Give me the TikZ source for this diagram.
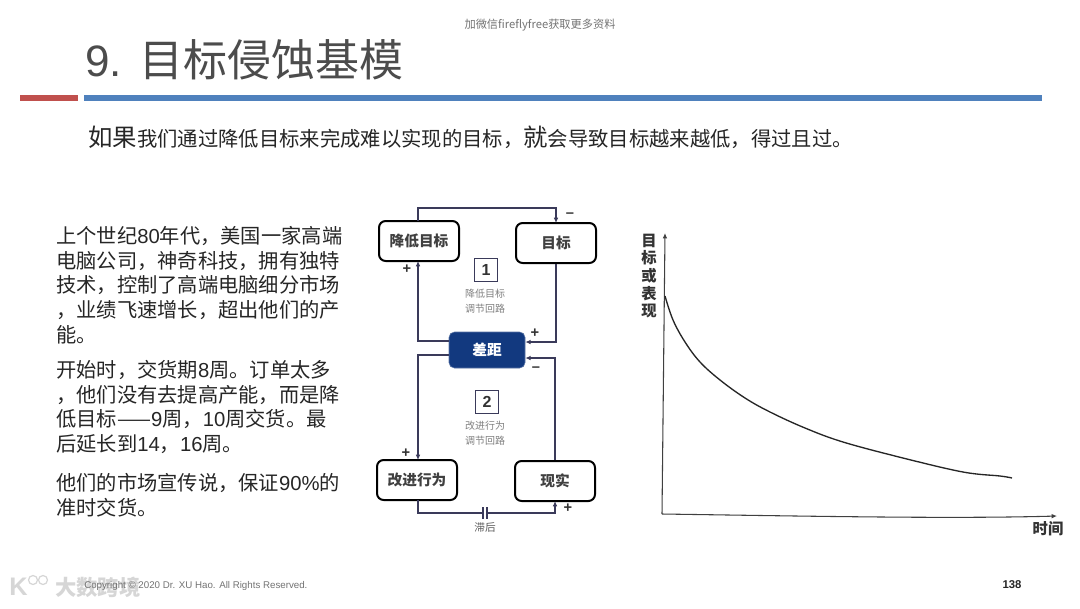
\documentclass[tikz,border=0pt]{standalone}
\usepackage{fontspec}
\usepackage{xcolor}
\usetikzlibrary{arrows.meta}
\setmainfont{Noto Sans CJK SC}
\newfontfamily\latinfont{Liberation Sans}
\definecolor{barred}{HTML}{C0504D}
\definecolor{barblue}{HTML}{4F81BD}
\definecolor{gapblue}{HTML}{12397F}
\definecolor{looplink}{HTML}{3A3A5A}
\tikzset{
  stockbox/.style={draw=black,line width=1.5pt,rounded corners=5pt,fill=white,minimum width=60pt,minimum height=30pt,inner sep=0pt,font=\fontsize{11}{13}\selectfont\bfseries,text=black!75},
  gapbox/.style={fill=gapblue,draw=gapblue!70!white,rounded corners=4pt,minimum width=57pt,minimum height=27pt,inner sep=0pt,font=\fontsize{11}{13}\selectfont\bfseries,text=white},
  loopnum/.style={draw=looplink,line width=1.2pt,minimum size=17pt,inner sep=0pt,font=\latinfont\fontsize{12}{14}\selectfont\bfseries,text=black!80},
  looptext/.style={align=center,text=black!50,font=\fontsize{7.5}{11}\selectfont},
  signmark/.style={inner sep=0pt,text=black!80,font=\latinfont\fontsize{11}{11}\selectfont\bfseries},
  linkline/.style={draw=looplink,line width=0.9pt},
  bodytext/.style={anchor=north west,align=left,inner sep=0pt,text=black!85,font=\fontsize{15.2}{18.5}\selectfont},
  axisline/.style={draw=black!75,line width=0.8pt}
}
\begin{document}
\begin{tikzpicture}[x=0.75pt,y=-0.75pt,>={Latex[length=4pt,width=3.5pt]}]
  \useasboundingbox (0,0) rectangle (1080,608);
  \fill[white] (0,0) rectangle (1080,608);
  % header
  \node[text=black!55,font=\fontsize{8.4}{10}\selectfont] (wechat) at (540,25) {加微信fireflyfree获取更多资料};
  \node[anchor=west,inner sep=0pt,text=black!70,font=\fontsize{33}{38}\selectfont] (title) at (85,60) {{\latinfont 9.}\hspace{3.5pt} 目标侵蚀基模};
  \fill[barred] (20,95) rectangle (78,101);
  \fill[barblue] (84,95) rectangle (1042,101);
  \node[anchor=west,inner sep=0pt,text=black!85,font=\fontsize{15.25}{18}\selectfont] (lead) at (88,137) {{\fontsize{18.3}{18}\selectfont 如果}我们通过降低目标来完成难以实现的目标，{\fontsize{18.3}{18}\selectfont 就}会导致目标越来越低，得过且过。};
  % left text
  \node[bodytext] (parta) at (56,226) {上个世纪{\latinfont 80}年代，美国一家高端\\电脑公司，神奇科技，拥有独特\\技术，控制了高端电脑细分市场\\，业绩飞速增长，超出他们的产\\能。};
  \node[bodytext] (partb) at (56,360) {开始时，交货期{\latinfont 8}周。订单太多\\，他们没有去提高产能，而是降\\低目标——{\latinfont 9}周，{\latinfont 10}周交货。最\\后延长到{\latinfont 14}，{\latinfont 16}周。};
  \node[bodytext] (partc) at (56,473) {他们的市场宣传说，保证{\latinfont 90\%}的\\准时交货。};
  % loop diagram
  \node[stockbox] (lower) at (419,241) {降低目标};
  \node[stockbox] (goal) at (556,243) {目标};
  \node[gapbox] (gap) at (487,350) {差距};
  \node[stockbox] (act) at (417,480) {改进行为};
  \node[stockbox] (real) at (555,481) {现实};
  \node[loopnum] (numa) at (486,270) {1};
  \node[looptext] (texta) at (485,301) {降低目标\\调节回路};
  \node[loopnum] (numb) at (487,402) {2};
  \node[looptext] (textb) at (485,433) {改进行为\\调节回路};
  \node[inner sep=0pt,text=black!65,font=\fontsize{8}{10}\selectfont] (lag) at (485,527) {滞后};
  \coordinate (lagl) at (483,513);
  \coordinate (lagr) at (487,513);
  \coordinate (lowtop) at (418,221);
  \coordinate (goaltop) at (556,223);
  \coordinate (lowbot) at (418,261);
  \coordinate (acttop) at (418,460);
  \coordinate (actbot) at (418,500);
  \coordinate (realbot) at (555,501);
  \draw[linkline,->] (lowtop) -- ++(0,-13) -| (goaltop);
  \draw[linkline,->] (goal.south) |- (gap.east |- 0,342);
  \draw[linkline,->] (gap.west |- 0,341) -| (lowbot);
  \draw[linkline,->] (gap.west |- 0,355) -| (acttop);
  \draw[linkline,->] (real.north) |- (gap.east |- 0,358);
  \draw[linkline] (actbot) |- (lagl);
  \draw[linkline,->] (lagr) -| (realbot);
  \draw[linkline,line width=1.2pt] (lagl) ++(0,-6) -- ++(0,12);
  \draw[linkline,line width=1.2pt] (lagr) ++(0,-6) -- ++(0,12);
  \node[signmark] (sa) at (570,215) {–};
  \node[signmark] (sb) at (407,269) {+};
  \node[signmark] (sc) at (535,333) {+};
  \node[signmark] (sd) at (536,369) {–};
  \node[signmark] (se) at (406,453) {+};
  \node[signmark] (sf) at (568,508) {+};
  % chart
  \coordinate (origin) at (662,514);
  \coordinate (ytop) at (665,233);
  \coordinate (xend) at (1057,516);
  \draw[axisline,->] (origin) -- (ytop);
  \draw[axisline,->] (origin) .. controls (800,516) and (950,519) .. (xend);
  \draw[black!85,line width=1pt] plot[smooth,tension=0.6] coordinates {(665,296) (673,320) (685,342) (700,362) (720,380) (745,398) (770,412) (805,428) (843,442) (903,458) (963,472) (1000,476) (1012,478)};
  \node[align=center,inner sep=0pt,text=black!80,font=\fontsize{11.5}{13.2}\selectfont\bfseries] (ylabel) at (649,276) {目\\标\\或\\表\\现};
  \node[inner sep=0pt,text=black!80,font=\fontsize{11.5}{14}\selectfont\bfseries] (xlabel) at (1048,529) {时间};
  % footer
  \node[anchor=west,inner sep=0pt,text=black!16,font=\fontsize{16}{20}\selectfont\bfseries] (mark) at (55,587) {大数跨境};
  \node[anchor=west,inner sep=0pt,text=black!16,font=\latinfont\fontsize{19}{20}\selectfont\bfseries] (logo) at (9,587) {K};
  \draw[black!16,line width=0.9pt] (33,580) circle (4.5) (43,580) circle (4.5);
  \node[anchor=west,inner sep=0pt,text=black!55,font=\latinfont\fontsize{7.3}{9}\selectfont] (copy) at (84,586) {Copyright © 2020 Dr. XU Hao. All Rights Reserved.};
  \node[inner sep=0pt,text=black!85,font=\latinfont\fontsize{8.5}{10}\selectfont\bfseries] (page) at (1012,585) {138};
\end{tikzpicture}
\end{document}
